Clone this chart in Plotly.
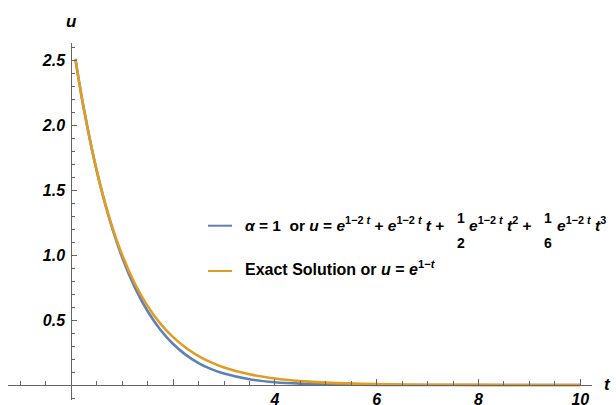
import plotly.graph_objects as go

# ---- data ----
t = [0.08, 0.25, 0.5, 0.75, 1.0, 1.25, 1.5, 1.75, 2.0, 2.25, 2.5, 2.75, 3.0,
     3.5, 4.0, 4.5, 5.0, 6.0, 7.0, 8.0, 9.0, 10.0]
u_alpha1 = [2.509, 2.117, 1.646, 1.275, 0.981, 0.749, 0.567, 0.425, 0.315, 0.232,
            0.169, 0.122, 0.0876, 0.0441, 0.0216, 0.0103, 0.0049, 0.0010, 0.0002,
            0.00004, 0.00001, 0.0]
u_exact = [2.509, 2.117, 1.649, 1.284, 1.0, 0.779, 0.607, 0.472, 0.368, 0.287,
           0.223, 0.174, 0.135, 0.082, 0.050, 0.030, 0.018, 0.0067, 0.0025,
           0.0009, 0.0003, 0.0001]

x_major = [0, 2, 4, 6, 8, 10]
x_major_labels = ["", "", "4", "6", "8", "10"]
x_minor = [-1.0, -0.5, 0.5, 1.0, 1.5, 2.5, 3.0, 3.5, 4.5, 5.0, 5.5, 6.5, 7.0, 7.5,
           8.5, 9.0, 9.5]
y_major = [0.5, 1.0, 1.5, 2.0, 2.5]
y_major_labels = ["0.5", "1.0", "1.5", "2.0", "2.5"]
y_minor = [-0.1, 0.1, 0.2, 0.3, 0.4, 0.6, 0.7, 0.8, 0.9, 1.1, 1.2, 1.3, 1.4, 1.6,
           1.7, 1.8, 1.9, 2.1, 2.2, 2.3, 2.4, 2.6]

BLUE = "#5E81B5"
ORANGE = "#E19C24"
AXC = "#666666"
FONT = "Liberation Sans"

W, H = 616, 405
L, R, T, B = 8, 24, 43, 5
PW, PH = W - L - R, H - T - B

# pixel model of the reference
def xd(px):
    return (px - 71.3) / 50.9

def yd(py):
    return (385.0 - py) / 130.0

xr = [xd(L), xd(W - R)]
yr = [yd(H - B), yd(T)]

def xp(px):
    return (px - L) / PW

def yp(py):
    return (H - B - py) / PH

fig = go.Figure()
fig.add_trace(go.Scatter(x=t, y=u_alpha1, mode="lines",
                         line=dict(color=BLUE, width=2.6, shape="spline"),
                         showlegend=False, hoverinfo="skip"))
fig.add_trace(go.Scatter(x=t, y=u_exact, mode="lines",
                         line=dict(color=ORANGE, width=2.6, shape="spline"),
                         showlegend=False, hoverinfo="skip"))

def bi(s):
    return "<b><i>%s</i></b>" % s

fig.update_layout(
    width=W, height=H,
    margin=dict(l=L, r=R, t=T, b=B, pad=0, autoexpand=False),
    paper_bgcolor="white", plot_bgcolor="white",
    showlegend=False,
    xaxis=dict(range=xr, anchor="free", position=(0 - yr[0]) / (yr[1] - yr[0]),
               automargin=False,
               showgrid=False, zeroline=False, showline=True, linecolor=AXC,
               linewidth=1, ticks="inside", ticklen=6, tickcolor=AXC, tickwidth=1,
               tickmode="array", tickvals=x_major,
               ticktext=[bi(s) if s else "" for s in x_major_labels],
               tickfont=dict(family=FONT, size=16, color="black"),
               minor=dict(tickmode="array", tickvals=x_minor, ticks="inside",
                          ticklen=4, tickcolor=AXC, tickwidth=1, showgrid=False)),
    yaxis=dict(range=yr, anchor="free", position=(0 - xr[0]) / (xr[1] - xr[0]),
               automargin=False,
               showgrid=False, zeroline=False, showline=True, linecolor=AXC,
               linewidth=1, ticks="inside", ticklen=5, tickcolor=AXC, tickwidth=1,
               tickmode="array", tickvals=y_major, ticklabelstandoff=3,
               ticktext=[bi(s) for s in y_major_labels],
               tickfont=dict(family=FONT, size=16, color="black"),
               minor=dict(tickmode="array", tickvals=y_minor, ticks="inside",
                          ticklen=3, tickcolor=AXC, tickwidth=1, showgrid=False)),
)

ann = []
def add_text(px, py, text, size=15.5, xanchor="left", yanchor="middle"):
    ann.append(dict(x=xp(px), y=yp(py), xref="paper", yref="paper", text=text,
                    showarrow=False, xanchor=xanchor, yanchor=yanchor,
                    font=dict(family=FONT, size=size, color="black")))

# axis labels
add_text(71, 21, bi("u"), size=17, xanchor="center")
add_text(607, 384, bi("t"), size=17, xanchor="center")

# legend
E = "<i>e</i><sup>1\u22122 <i>t</i></sup>"
add_text(243, 224, "<b><i>\u03b1</i> = 1  or <i>u</i> = " + E + " + " + E + " <i>t</i> +</b>")
add_text(461, 218, "<b>1</b>", size=14, xanchor="center")
add_text(461, 243, "<b>2</b>", size=14, xanchor="center")
add_text(467, 224, "<b>" + E + " <i>t</i><sup>2</sup> +</b>")
add_text(548, 218, "<b>1</b>", size=14, xanchor="center")
add_text(548, 243, "<b>6</b>", size=14, xanchor="center")
add_text(555, 224, "<b>" + E + " <i>t</i><sup>3</sup></b>")
add_text(243, 268, "<b>Exact Solution or <i>u</i> = <i>e</i><sup>1\u2212<i>t</i></sup></b>", size=16)

fig.update_layout(annotations=ann)

shapes = [
    dict(type="line", xref="paper", yref="paper", x0=xp(208), x1=xp(232),
         y0=yp(225.7), y1=yp(225.7), line=dict(color=BLUE, width=2)),
    dict(type="line", xref="paper", yref="paper", x0=xp(208), x1=xp(232),
         y0=yp(271), y1=yp(271), line=dict(color=ORANGE, width=2)),
]
fig.update_layout(shapes=shapes)

fig.write_html("out.html", config={"displayModeBar": False},
               post_script="document.body.style.margin='0';document.body.style.overflow='hidden';")
